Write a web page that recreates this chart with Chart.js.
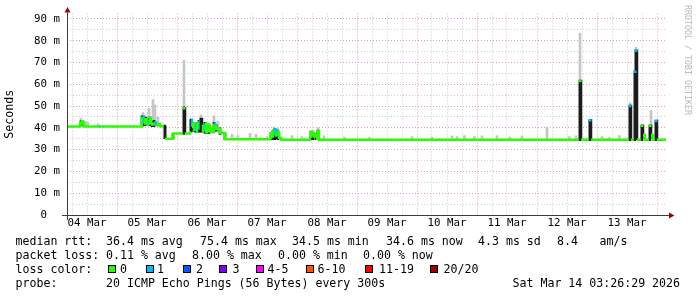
<!DOCTYPE html>
<html>
<head>
<meta charset="utf-8">
<script src="https://cdn.jsdelivr.net/npm/chart.js@4.4.1/dist/chart.umd.min.js"></script>
<style>
body { margin: 0; background: #fff; }
#wrap { position: relative; width: 697px; height: 297px; font-family: 'DejaVu Sans Mono', monospace; font-size: 11.6px; color: #000; }
#grafico { position: absolute; left: 0; top: 0; }
.txt { position: absolute; white-space: pre; line-height: 14px; }
.box { position: absolute; top: 265px; width: 6px; height: 6px; border: 1px solid #000; }
#marca { position: absolute; left: 693px; top: 5px; transform: rotate(90deg); transform-origin: 0 0; font-size: 8.3px; line-height: 10px; color: #b8b8b8; white-space: pre; }
</style>
</head>
<body>
<div id="wrap">
  <canvas id="grafico" width="697" height="297"></canvas>
  <div id="marca">RRDTOOL / TOBI OETIKER</div>

  <div class="txt" style="left:15.5px;top:234px">median rtt:</div>
  <div class="txt" style="left:106px;top:234px">36.4 ms avg</div>
  <div class="txt" style="left:200px;top:234px">75.4 ms max</div>
  <div class="txt" style="left:292px;top:234px">34.5 ms min</div>
  <div class="txt" style="left:386px;top:234px">34.6 ms now</div>
  <div class="txt" style="left:478px;top:234px">4.3 ms sd</div>
  <div class="txt" style="left:557px;top:234px">8.4</div>
  <div class="txt" style="left:599.5px;top:234px">am/s</div>

  <div class="txt" style="left:15.5px;top:248px">packet loss:</div>
  <div class="txt" style="left:106px;top:248px">0.11 % avg</div>
  <div class="txt" style="left:192px;top:248px">8.00 % max</div>
  <div class="txt" style="left:278px;top:248px">0.00 % min</div>
  <div class="txt" style="left:363px;top:248px">0.00 % now</div>

  <div class="txt" style="left:15.5px;top:262px">loss color:</div>
  <div id="legenda"></div>

  <div class="txt" style="left:15.5px;top:276px">probe:</div>
  <div class="txt" style="left:106px;top:276px">20 ICMP Echo Pings (56 Bytes) every 300s</div>
  <div class="txt" style="left:512.5px;top:276px">Sat Mar 14 03:26:29 2026</div>
</div>
<script>
// time axis = hours since 04 Mar 00:00, one pixel = 24 min
const dayLabels = ['04 Mar', '05 Mar', '06 Mar', '07 Mar', '08 Mar', '09 Mar', '10 Mar', '11 Mar', '12 Mar', '13 Mar'];

const lossLabels = ['0', '1', '2', '3', '4-5', '6-10', '11-19', '20/20'];
const lossColors = ['#26ff00', '#00b8ff', '#0059ff', '#7e00ff', '#ff00ff', '#ff5500', '#ff0000', '#a10000'];

// median rtt (ms), value held until the next point
const medianHours = [4.0, 9.2, 9.6, 10.0, 10.4, 10.8, 16.8, 17.2, 34.0, 34.4,
    34.8, 35.2, 35.6, 36.0, 36.4, 36.8, 37.2, 37.6, 38.0, 38.8,
    39.6, 40.4, 41.2, 42.8, 43.2, 46.4, 50.4, 50.8, 51.2, 53.2,
    53.6, 54.0, 54.4, 54.8, 55.2, 55.6, 56.0, 56.4, 56.8, 57.2,
    57.6, 58.0, 58.4, 58.8, 59.2, 59.6, 60.0, 60.4, 60.8, 61.2,
    62.0, 62.8, 63.2, 63.6, 65.2, 67.2, 85.2, 85.6, 86.0, 86.4,
    86.8, 87.2, 87.6, 88.0, 88.4, 88.8, 89.6, 101.2, 101.6, 102.0,
    102.4, 102.8, 103.6, 104.0, 104.4, 104.8, 208.8, 209.2, 209.6, 212.8,
    213.2, 213.6, 228.8, 229.2, 229.6, 230.8, 231.2, 231.6, 232.0, 233.6,
    234.0, 234.4, 235.2, 236.8, 237.2, 237.6, 238.4, 239.2, 239.6, 240.0,
    243.6];
const medianMs = [40.6, 41.5, 42.5, 43.0, 41.8, 40.6, 40.6, 40.6, 44.5, 45.2,
    42.0, 43.5, 44.0, 41.5, 43.0, 42.0, 44.5, 42.0, 41.5, 42.5,
    41.2, 41.8, 40.8, 40.8, 35.0, 37.4, 37.4, 49.0, 37.4, 39.0,
    43.6, 40.5, 42.0, 39.0, 41.5, 38.5, 42.0, 40.0, 43.0, 39.0,
    44.0, 38.5, 41.0, 39.0, 42.0, 38.0, 39.5, 41.5, 38.5, 40.0,
    38.0, 42.0, 41.0, 39.5, 37.6, 34.8, 35.5, 37.5, 36.0, 38.5,
    39.3, 36.5, 39.0, 37.0, 38.0, 35.5, 34.6, 36.0, 38.0, 36.5,
    37.5, 36.0, 37.0, 35.0, 38.6, 34.6, 34.6, 61.5, 34.6, 34.6,
    43.5, 34.6, 34.6, 50.0, 34.6, 34.6, 65.8, 75.4, 34.6, 34.6,
    41.0, 36.7, 34.6, 34.6, 41.0, 36.7, 34.6, 34.6, 43.2, 34.6,
    34.6];
// index into lossColors
const medianLoss = [0, 0, 0, 0, 0, 0, 1, 0, 0, 1,
    0, 0, 0, 0, 1, 0, 0, 0, 0, 1,
    0, 0, 0, 0, 0, 0, 0, 0, 0, 0,
    1, 0, 0, 0, 1, 0, 0, 0, 1, 0,
    0, 0, 0, 1, 0, 0, 0, 0, 0, 0,
    0, 1, 0, 0, 0, 0, 0, 0, 0, 0,
    1, 0, 1, 0, 0, 0, 0, 0, 0, 0,
    0, 0, 0, 0, 0, 0, 0, 0, 0, 0,
    1, 0, 0, 1, 0, 0, 1, 1, 0, 0,
    0, 0, 0, 0, 0, 0, 0, 0, 1, 0,
    0];

// thin smoke (light grey)
const lightHours = [9.6, 10.4, 11.6, 12.4, 16.4, 34.4, 36.8, 38.4, 39.2, 40.4,
    50.8, 57.6, 62.8, 64.4, 70.0, 72.4, 77.2, 79.6, 84.0, 86.8,
    88.4, 94.0, 98.0, 102.4, 104.4, 106.8, 115.0, 125.0, 142.0, 150.0,
    158.0, 160.0, 163.0, 167.0, 170.0, 176.0, 181.0, 186.0, 196.0, 205.0,
    207.6, 209.2, 218.0, 221.0, 225.0, 229.2, 231.6, 237.6, 240.0];
const lightLow = [40.6, 40.6, 40.6, 40.6, 40.6, 42.0, 42.0, 41.0, 41.0, 41.0,
    49.0, 40.0, 40.0, 38.0, 34.6, 34.6, 34.6, 34.6, 34.6, 36.0,
    35.0, 34.6, 34.6, 35.0, 35.0, 34.6, 34.6, 34.6, 34.6, 34.6,
    34.6, 34.6, 34.6, 34.6, 34.6, 34.6, 34.6, 34.6, 34.6, 34.6,
    34.6, 61.5, 34.6, 34.6, 34.6, 50.0, 75.4, 40.0, 35.0];
const lightHigh = [44.5, 43.5, 43.0, 42.5, 41.8, 47.0, 49.0, 53.0, 50.5, 45.0,
    71.0, 46.0, 45.5, 43.0, 37.0, 36.5, 37.5, 37.0, 36.0, 40.5,
    39.5, 36.5, 36.0, 39.0, 40.0, 36.3, 35.8, 35.8, 36.0, 35.8,
    36.3, 36.0, 36.5, 36.0, 36.3, 36.5, 35.8, 36.3, 40.4, 36.0,
    36.3, 83.5, 36.0, 35.8, 36.5, 51.5, 77.0, 48.0, 38.5];

// dense smoke (near black)
const darkHours = [9.6, 10.0, 10.4, 34.0, 34.8, 35.6, 36.4, 37.2, 38.0, 38.8,
    43.2, 46.4, 50.8, 53.6, 54.4, 55.2, 56.0, 56.8, 57.6, 58.4,
    59.2, 60.0, 60.8, 62.8, 63.6, 65.2, 67.2, 85.6, 86.4, 87.2,
    87.6, 88.4, 101.6, 102.4, 103.6, 104.4, 209.2, 213.2, 229.2, 231.2,
    231.6, 234.0, 237.2, 239.6];
const darkLow = [41.0, 41.5, 41.0, 40.6, 41.0, 41.0, 41.5, 41.0, 40.5, 40.5,
    35.0, 35.0, 37.4, 38.0, 38.5, 38.0, 38.0, 38.0, 38.0, 38.0,
    37.5, 37.5, 37.5, 38.0, 38.5, 37.0, 34.6, 34.6, 34.6, 34.6,
    35.0, 34.6, 34.6, 34.6, 34.6, 34.6, 34.6, 34.6, 34.6, 34.6,
    34.6, 35.0, 35.0, 34.6];
const darkHigh = [43.2, 43.5, 42.5, 45.5, 44.5, 45.0, 44.0, 45.0, 43.0, 43.5,
    40.6, 37.4, 49.6, 44.0, 42.5, 42.0, 42.5, 43.5, 44.5, 41.5,
    42.5, 40.0, 41.5, 42.5, 41.5, 40.0, 37.6, 38.0, 39.0, 39.5,
    39.0, 38.5, 38.5, 37.8, 37.5, 39.0, 61.5, 43.5, 50.0, 65.8,
    75.4, 41.0, 41.0, 43.2];

const legendBoxX = [108, 146, 183, 219, 256, 306, 365, 430];
const legendTextX = [120, 157, 196, 232.5, 267.5, 317.5, 379, 443.5];

function montarLegenda() {
    var div = document.getElementById('legenda');
    for (var i = 0; i < lossLabels.length; i++) {
        var b = document.createElement('div');
        b.className = 'box';
        b.style.left = legendBoxX[i] + 'px';
        b.style.background = lossColors[i];
        div.appendChild(b);
        var t = document.createElement('div');
        t.className = 'txt';
        t.style.left = legendTextX[i] + 'px';
        t.style.top = '262px';
        t.textContent = lossLabels[i];
        div.appendChild(t);
    }
}

function pontos(xs, ys) {
    return xs.map(function (x, i) { return { x: x, y: ys[i] }; });
}
function barras(xs, lo, hi) {
    return xs.map(function (x, i) { return { x: x, y: [lo[i], hi[i]] }; });
}

// axis lines and the little red arrows
const eixos = {
    id: 'eixos',
    afterDatasetsDraw(chart) {
        const ctx = chart.ctx;
        const a = chart.chartArea;
        ctx.save();
        ctx.strokeStyle = '#3c3c3c';
        ctx.lineWidth = 1;
        ctx.beginPath();
        ctx.moveTo(a.left - 5, Math.round(a.bottom) + 0.5);
        ctx.lineTo(a.right + 3, Math.round(a.bottom) + 0.5);
        ctx.moveTo(a.left + 0.5, a.bottom + 5);
        ctx.lineTo(a.left + 0.5, a.top - 1);
        ctx.stroke();
        ctx.fillStyle = '#a00000';
        ctx.beginPath();
        ctx.moveTo(a.right + 2, a.bottom - 2.5);
        ctx.lineTo(a.right + 7.5, a.bottom + 0.5);
        ctx.lineTo(a.right + 2, a.bottom + 3.5);
        ctx.fill();
        ctx.beginPath();
        ctx.moveTo(a.left - 2.5, a.top - 1);
        ctx.lineTo(a.left + 0.5, a.top - 6.5);
        ctx.lineTo(a.left + 3.5, a.top - 1);
        ctx.fill();
        ctx.restore();
    }
};

function plotarGrafico() {
    Chart.defaults.font.family = "'DejaVu Sans Mono', monospace";
    Chart.defaults.color = '#000';

    // only the tops of sharp rises get a small coloured cap
    var raioPontos = medianMs.map(function (v, i) {
        if (i > 0 && v - medianMs[i - 1] > 5) return 1.5;
        return 0;
    });

    const dados = {
        datasets: [{
            type: 'line',
            label: 'median',
            data: pontos(medianHours, medianMs),
            stepped: true,
            borderWidth: 2.5,
            borderColor: lossColors[0],
            fill: false,
            pointStyle: 'line',
            pointRadius: raioPontos,
            pointBorderWidth: 2.5,
            pointBorderColor: medianLoss.map(function (l) { return lossColors[l]; }),
            segment: {
                borderColor: function (c) {
                    if (Math.abs(c.p1.parsed.y - c.p0.parsed.y) > 4) return '#1c1c1c';
                    return lossColors[medianLoss[c.p0DataIndex]];
                }
            },
            order: 0
        }, {
            type: 'bar',
            label: 'smoke dense',
            data: barras(darkHours, darkLow, darkHigh),
            backgroundColor: '#1c1c1c',
            borderWidth: 0,
            barThickness: 2,
            grouped: false,
            order: 1
        }, {
            type: 'bar',
            label: 'smoke',
            data: barras(lightHours, lightLow, lightHigh),
            backgroundColor: '#c6c6c6',
            borderWidth: 0,
            barThickness: 2,
            grouped: false,
            order: 2
        }]
    };

    const config = {
        type: 'line',
        data: dados,
        plugins: [eixos],
        options: {
            responsive: false,
            devicePixelRatio: 1,
            animation: false,
            layout: { padding: { left: 0, right: 30, top: 13.5, bottom: 0 } },
            plugins: { legend: { display: false }, tooltip: { enabled: false } },
            scales: {
                x: {
                    type: 'linear',
                    min: 4,
                    max: 244,
                    offset: false,
                    afterFit: function (s) { s.height = 82; },
                    afterBuildTicks: function (s) {
                        var t = [];
                        for (var h = 6; h <= 240; h += 6) t.push({ value: h });
                        s.ticks = t;
                    },
                    ticks: {
                        autoSkip: false,
                        maxRotation: 0,
                        padding: 2,
                        font: { size: 10.8 },
                        callback: function (v) {
                            if (v % 24 === 12) return dayLabels[(v - 12) / 24];
                            return '';
                        }
                    },
                    grid: {
                        drawTicks: false,
                        offset: false,
                        color: function (c) {
                            return c.tick && c.tick.value % 24 === 0 ? '#e4a0a0' : '#cdcdcd';
                        }
                    },
                    border: { display: false, dash: [1, 2] }
                },
                y: {
                    min: 0,
                    max: 92.5,
                    afterFit: function (s) { s.width = 67; },
                    afterBuildTicks: function (s) {
                        var t = [];
                        for (var v = 0; v <= 90; v += 5) t.push({ value: v });
                        s.ticks = t;
                    },
                    ticks: {
                        autoSkip: false,
                        padding: 7,
                        font: { size: 10.8 },
                        callback: function (v) {
                            if (v === 0) return '0  ';
                            if (v % 10 === 0) return v + ' m';
                            return '';
                        }
                    },
                    grid: {
                        drawTicks: false,
                        color: function (c) {
                            return c.tick && c.tick.value % 10 === 0 ? '#e4a0a0' : '#cdcdcd';
                        }
                    },
                    border: { display: false, dash: [1, 2] },
                    title: {
                        display: true,
                        text: 'Seconds',
                        font: { size: 11.6 },
                        padding: { top: 3, bottom: 0 }
                    }
                }
            }
        }
    };

    var ctx = document.getElementById('grafico').getContext('2d');
    let myChart = new Chart(ctx, config);
}

montarLegenda();
plotarGrafico();
</script>
</body>
</html>
